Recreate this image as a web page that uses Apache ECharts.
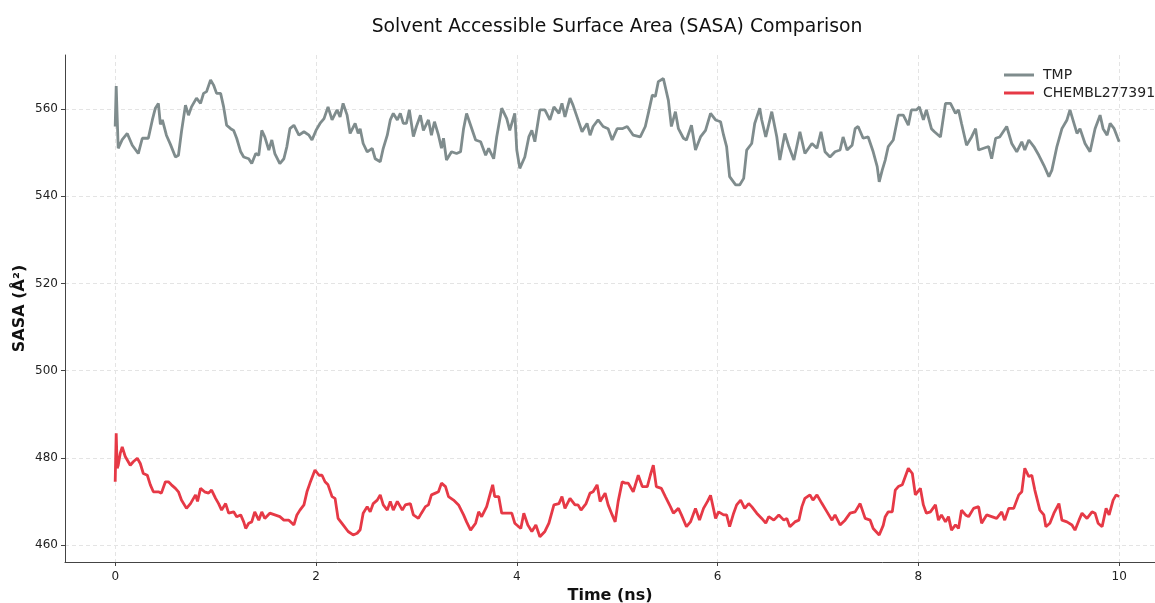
<!DOCTYPE html>
<html>
<head>
<meta charset="utf-8">
<script src="https://cdn.jsdelivr.net/npm/echarts@6/dist/echarts.min.js"></script>
<style>
    html, body { margin: 0; padding: 0; background: #fff; }
    #chart { width: 1155px; height: 603px; }
</style>
</head>
<body>
<div id="chart"></div>
<script>
// 时间 (ns) 和 SASA 读数
let tmpTime = [0.00, 0.01, 0.02, 0.03, 0.07, 0.12, 0.17, 0.23, 0.27, 0.33, 0.37, 0.40, 0.43, 0.45, 0.47, 0.51, 0.55, 0.60, 0.63, 0.66,
    0.70, 0.73, 0.76, 0.81, 0.85, 0.88, 0.91, 0.95, 0.98, 1.01, 1.05, 1.08, 1.11, 1.15, 1.18, 1.21, 1.25, 1.28, 1.33, 1.36,
    1.40, 1.43, 1.46, 1.49, 1.53, 1.56, 1.59, 1.64, 1.68, 1.71, 1.74, 1.78, 1.83, 1.88, 1.93, 1.96, 2.00, 2.04, 2.08, 2.12,
    2.16, 2.21, 2.24, 2.27, 2.31, 2.34, 2.39, 2.42, 2.44, 2.47, 2.51, 2.56, 2.59, 2.64, 2.67, 2.71, 2.74, 2.77, 2.81, 2.84,
    2.87, 2.90, 2.93, 2.97, 3.00, 3.04, 3.07, 3.12, 3.15, 3.18, 3.22, 3.25, 3.27, 3.30, 3.35, 3.40, 3.44, 3.47, 3.50, 3.54,
    3.59, 3.64, 3.69, 3.72, 3.77, 3.80, 3.85, 3.90, 3.93, 3.98, 4.00, 4.03, 4.08, 4.12, 4.15, 4.18, 4.23, 4.28, 4.33, 4.37,
    4.42, 4.45, 4.48, 4.53, 4.56, 4.60, 4.65, 4.70, 4.73, 4.76, 4.81, 4.86, 4.91, 4.95, 5.00, 5.05, 5.10, 5.16, 5.23, 5.28,
    5.31, 5.35, 5.38, 5.41, 5.46, 5.51, 5.54, 5.58, 5.61, 5.66, 5.69, 5.74, 5.78, 5.83, 5.88, 5.93, 5.98, 6.03, 6.06, 6.09,
    6.12, 6.18, 6.22, 6.26, 6.29, 6.34, 6.37, 6.42, 6.44, 6.48, 6.54, 6.59, 6.62, 6.67, 6.71, 6.76, 6.82, 6.87, 6.94, 6.99,
    7.03, 7.07, 7.12, 7.17, 7.22, 7.25, 7.29, 7.34, 7.37, 7.40, 7.45, 7.50, 7.55, 7.59, 7.61, 7.64, 7.67, 7.70, 7.75, 7.80,
    7.85, 7.90, 7.93, 7.98, 8.01, 8.05, 8.08, 8.13, 8.16, 8.22, 8.27, 8.32, 8.37, 8.40, 8.43, 8.48, 8.53, 8.57, 8.60, 8.65,
    8.70, 8.73, 8.77, 8.81, 8.88, 8.93, 8.98, 9.03, 9.06, 9.10, 9.15, 9.20, 9.25, 9.30, 9.33, 9.38, 9.43, 9.48, 9.51, 9.55,
    9.58, 9.61, 9.66, 9.71, 9.76, 9.81, 9.84, 9.88, 9.91, 9.95, 10.00];
let tmpSasa = [556.0, 565.3, 558.0, 551.0, 553.0, 554.4, 551.7, 549.8, 553.3, 553.3, 557.5, 560.2, 561.3, 556.5, 557.5, 554.0, 551.9, 549.0, 549.4, 554.8,
    560.9, 558.6, 560.5, 562.5, 561.3, 563.6, 564.0, 566.7, 565.5, 563.6, 563.6, 560.5, 556.3, 555.5, 555.1, 553.3, 550.2, 549.0, 548.6, 547.5,
    549.8, 549.4, 555.1, 553.6, 550.6, 552.9, 549.8, 547.5, 548.6, 551.4, 555.5, 556.3, 554.0, 554.8, 554.0, 552.9, 555.1, 556.7, 557.8, 560.5,
    557.5, 559.8, 558.2, 561.3, 558.6, 554.4, 556.7, 554.4, 555.5, 552.1, 550.2, 551.0, 548.6, 547.9, 551.0, 554.0, 557.5, 559.0, 557.5, 559.0,
    556.7, 556.7, 559.8, 553.7, 556.0, 558.6, 555.1, 557.5, 554.0, 557.1, 554.0, 551.0, 553.3, 548.3, 550.2, 549.8, 550.2, 555.5, 559.0, 556.3,
    552.9, 552.5, 549.4, 551.0, 548.6, 553.6, 560.2, 557.8, 555.1, 559.0, 550.6, 546.4, 549.0, 553.6, 555.1, 552.5, 559.8, 559.8, 557.5, 560.5,
    559.0, 561.3, 558.2, 562.5, 560.9, 558.2, 554.8, 556.7, 554.0, 556.0, 557.5, 556.0, 555.5, 552.9, 555.5, 555.5, 556.0, 554.0, 553.6, 556.0,
    559.0, 563.2, 562.9, 566.3, 567.0, 562.0, 556.0, 559.4, 555.5, 553.3, 552.9, 556.3, 550.6, 553.6, 555.1, 559.0, 557.5, 557.1, 554.0, 551.4,
    544.5, 542.6, 542.6, 544.1, 550.6, 552.1, 556.7, 560.2, 557.5, 553.6, 559.4, 553.6, 548.3, 554.4, 551.4, 548.3, 554.8, 549.8, 552.1, 551.0,
    554.8, 550.2, 549.0, 550.2, 550.6, 553.6, 550.6, 551.7, 555.5, 556.0, 553.3, 553.6, 550.2, 546.8, 543.3, 546.0, 548.3, 551.4, 552.9, 558.6,
    558.6, 556.3, 559.8, 559.8, 560.5, 557.5, 559.8, 555.5, 554.8, 553.6, 561.3, 561.3, 559.0, 559.8, 556.7, 551.7, 553.6, 555.5, 550.6, 551.0,
    551.4, 548.6, 553.3, 553.6, 556.0, 552.1, 550.2, 552.5, 550.6, 552.9, 551.4, 549.4, 547.1, 544.5, 546.0, 551.4, 555.5, 557.5, 559.8, 556.7,
    554.4, 555.5, 552.1, 550.2, 555.5, 558.6, 555.5, 554.0, 556.7, 555.5, 552.5];

let chemblTime = [0.00, 0.01, 0.02, 0.03, 0.05, 0.07, 0.10, 0.15, 0.18, 0.22, 0.25, 0.28, 0.32, 0.35, 0.38, 0.43, 0.46, 0.50, 0.53, 0.56,
    0.60, 0.63, 0.66, 0.71, 0.75, 0.80, 0.82, 0.85, 0.89, 0.93, 0.96, 1.00, 1.03, 1.06, 1.10, 1.13, 1.18, 1.21, 1.25, 1.28,
    1.30, 1.33, 1.36, 1.39, 1.43, 1.46, 1.49, 1.54, 1.59, 1.64, 1.68, 1.73, 1.78, 1.81, 1.84, 1.88, 1.91, 1.94, 1.99, 2.03,
    2.06, 2.09, 2.12, 2.16, 2.19, 2.22, 2.27, 2.32, 2.37, 2.41, 2.44, 2.47, 2.51, 2.54, 2.57, 2.61, 2.64, 2.67, 2.71, 2.74,
    2.77, 2.81, 2.86, 2.89, 2.94, 2.97, 3.02, 3.05, 3.09, 3.12, 3.15, 3.19, 3.22, 3.25, 3.29, 3.32, 3.37, 3.42, 3.47, 3.50,
    3.54, 3.59, 3.62, 3.65, 3.70, 3.74, 3.76, 3.78, 3.82, 3.85, 3.90, 3.95, 3.98, 4.02, 4.04, 4.07, 4.11, 4.15, 4.19, 4.23,
    4.28, 4.32, 4.37, 4.42, 4.45, 4.48, 4.53, 4.58, 4.61, 4.64, 4.69, 4.73, 4.76, 4.80, 4.83, 4.88, 4.91, 4.95, 4.98, 5.01,
    5.05, 5.08, 5.11, 5.16, 5.21, 5.25, 5.30, 5.33, 5.36, 5.39, 5.44, 5.48, 5.53, 5.56, 5.61, 5.64, 5.69, 5.73, 5.78, 5.82,
    5.86, 5.90, 5.93, 5.98, 6.01, 6.06, 6.09, 6.12, 6.16, 6.19, 6.23, 6.27, 6.31, 6.34, 6.39, 6.44, 6.48, 6.51, 6.56, 6.61,
    6.66, 6.69, 6.72, 6.77, 6.81, 6.84, 6.87, 6.92, 6.95, 6.99, 7.04, 7.09, 7.14, 7.17, 7.22, 7.27, 7.32, 7.37, 7.42, 7.47,
    7.52, 7.55, 7.61, 7.65, 7.67, 7.70, 7.74, 7.77, 7.80, 7.84, 7.87, 7.90, 7.94, 7.97, 8.02, 8.05, 8.08, 8.12, 8.17, 8.20,
    8.23, 8.27, 8.30, 8.33, 8.37, 8.40, 8.43, 8.47, 8.50, 8.55, 8.60, 8.63, 8.68, 8.73, 8.78, 8.83, 8.86, 8.90, 8.95, 9.00,
    9.03, 9.06, 9.10, 9.13, 9.16, 9.21, 9.25, 9.27, 9.31, 9.35, 9.40, 9.43, 9.48, 9.53, 9.56, 9.60, 9.63, 9.68, 9.73, 9.76,
    9.79, 9.83, 9.87, 9.90, 9.94, 9.97, 10.00];
let chemblSasa = [474.5, 485.6, 477.6, 478.3, 481.0, 482.5, 480.3, 478.3, 479.1, 479.9, 478.7, 476.4, 476.0, 473.8, 472.2, 472.2, 471.9, 474.5, 474.5, 473.8,
    473.0, 472.2, 470.3, 468.4, 469.5, 471.5, 470.0, 473.0, 472.2, 471.9, 472.6, 470.7, 469.5, 468.0, 469.5, 467.3, 467.6, 466.5, 466.9, 465.3,
    463.8, 465.0, 465.3, 467.6, 465.7, 467.6, 466.1, 467.3, 466.9, 466.5, 465.7, 465.7, 464.6, 466.9, 468.0, 469.2, 472.2, 474.2, 477.2, 476.0,
    476.0, 474.5, 473.8, 471.1, 470.7, 466.1, 464.6, 463.1, 462.3, 462.7, 463.5, 467.3, 468.8, 467.6, 469.5, 470.3, 471.5, 469.2, 468.0, 470.0,
    468.0, 470.0, 468.0, 469.2, 469.5, 466.9, 466.1, 467.3, 468.8, 469.2, 471.5, 471.9, 472.2, 474.2, 473.4, 471.1, 470.3, 469.2, 466.9, 465.3,
    463.4, 465.0, 467.6, 466.5, 468.8, 472.2, 473.8, 471.1, 471.1, 467.3, 467.3, 467.3, 465.0, 464.2, 463.8, 467.3, 464.6, 463.1, 464.6, 461.9,
    463.1, 465.0, 469.2, 469.5, 471.1, 468.4, 470.7, 469.2, 469.2, 468.0, 469.5, 471.9, 472.2, 473.8, 470.0, 471.9, 469.2, 466.9, 465.3, 470.0,
    474.5, 474.2, 474.2, 472.2, 476.0, 473.4, 473.4, 476.0, 478.3, 473.4, 473.0, 471.1, 468.8, 467.3, 468.4, 466.9, 464.2, 465.3, 468.4, 465.7,
    468.4, 470.0, 471.4, 466.1, 467.6, 466.9, 466.9, 464.2, 467.3, 469.2, 470.3, 468.4, 469.5, 468.8, 467.3, 466.1, 465.0, 466.5, 465.7, 466.9,
    465.7, 466.1, 464.2, 465.3, 465.7, 468.8, 470.7, 471.5, 470.3, 471.5, 469.5, 467.6, 465.7, 466.9, 464.6, 465.7, 467.3, 467.6, 469.5, 466.1,
    465.7, 463.8, 462.3, 464.5, 466.5, 467.6, 467.6, 472.6, 473.4, 473.8, 475.7, 477.6, 476.4, 471.5, 473.0, 469.2, 467.3, 467.6, 469.2, 465.7,
    466.9, 465.3, 466.5, 463.4, 464.6, 463.8, 468.0, 466.9, 466.5, 468.4, 468.8, 465.0, 466.9, 466.5, 466.1, 467.6, 465.7, 468.4, 468.4, 471.5,
    472.2, 477.6, 475.7, 476.0, 472.6, 468.0, 466.9, 464.2, 465.0, 467.3, 469.5, 465.7, 465.3, 464.6, 463.4, 465.7, 467.3, 466.1, 467.6, 467.3,
    465.0, 464.2, 468.4, 466.9, 470.3, 471.5, 471.1];

let xTicks = [0, 2, 4, 6, 8, 10];
let yTicks = [460, 480, 500, 520, 540, 560];

const FONT = 'DejaVu Sans';

function pairs(ts, vs) {
    return ts.map((t, i) => [t, vs[i]]);
}

let chart = echarts.init(document.getElementById('chart'));

let option = {
    backgroundColor: '#fff',
    animation: false,
    title: {
        text: 'Solvent Accessible Surface Area (SASA) Comparison',
        left: 612,
        textAlign: 'center',
        top: 13,
        textStyle: { fontFamily: FONT, fontSize: 18.8, fontWeight: 'normal', color: '#111' }
    },
    legend: {
        left: 999,
        top: 63,
        orient: 'vertical',
        icon: 'rect',
        itemWidth: 30,
        itemHeight: 3,
        itemGap: 4,
        textStyle: { fontFamily: FONT, fontSize: 14, color: '#222', padding: [0, 0, 0, 4] },
        data: ['TMP', 'CHEMBL277391']
    },
    grid: { left: 65, right: 0, top: 55, bottom: 41, outerBoundsMode: 'none', containLabel: false },
    xAxis: {
        type: 'value',
        min: -0.5,
        max: 10.357,
        name: 'Time (ns)',
        nameLocation: 'middle',
        nameGap: 26,
        nameTextStyle: { fontFamily: FONT, fontSize: 16, fontWeight: 'bold', color: '#111' },
        axisLine: { show: true, onZero: false, lineStyle: { color: '#444', width: 1 } },
        axisTick: { show: true, length: 4, customValues: xTicks, lineStyle: { color: '#444' } },
        axisLabel: { customValues: xTicks, margin: 9, fontFamily: FONT, fontSize: 12, color: '#222' },
        splitLine: { show: true, lineStyle: { color: '#e4e4e4', type: [4, 3], width: 1 } }
    },
    yAxis: {
        type: 'value',
        min: 456.1,
        max: 572.4,
        name: 'SASA (Å²)',
        nameLocation: 'middle',
        nameMoveOverlap: false,
        nameGap: 37,
        nameTextStyle: { fontFamily: FONT, fontSize: 16, fontWeight: 'bold', color: '#111' },
        axisLine: { show: true, onZero: false, lineStyle: { color: '#444', width: 1 } },
        axisTick: { show: true, length: 4, customValues: yTicks, lineStyle: { color: '#444' } },
        axisLabel: { customValues: yTicks, margin: 7, fontFamily: FONT, fontSize: 12, color: '#222' },
        splitLine: { show: true, lineStyle: { color: '#e4e4e4', type: [4, 3], width: 1 } }
    },
    series: [
        {
            name: 'TMP',
            type: 'line',
            showSymbol: false,
            color: '#7f8c8d',
            lineStyle: { width: 2.8, color: '#7f8c8d' },
            data: pairs(tmpTime, tmpSasa)
        },
        {
            name: 'CHEMBL277391',
            type: 'line',
            showSymbol: false,
            color: '#e63946',
            lineStyle: { width: 2.8, color: '#e63946' },
            data: pairs(chemblTime, chemblSasa)
        }
    ]
};

chart.setOption(option);
</script>
</body>
</html>
